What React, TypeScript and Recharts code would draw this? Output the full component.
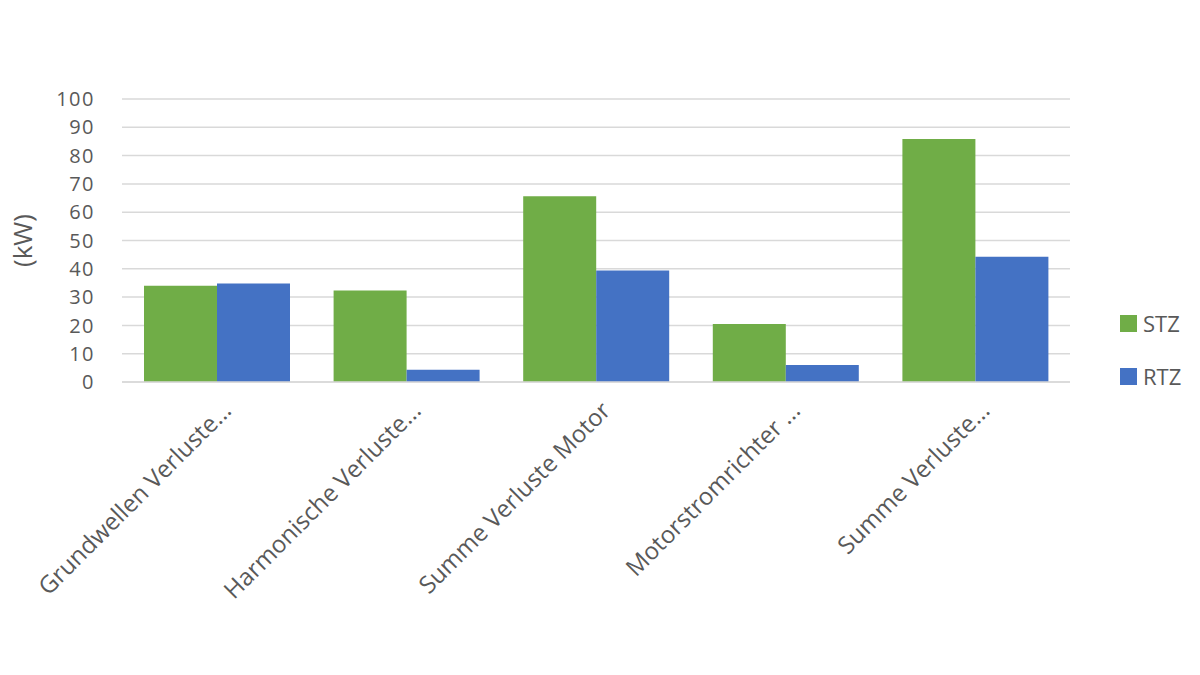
import React from "react";
import { Bar, BarChart, CartesianGrid, XAxis, YAxis } from "recharts";

const categories = [
  "Grundwellen Verluste...",
  "Harmonische Verluste...",
  "Summe Verluste Motor",
  "Motorstromrichter ...",
  "Summe Verluste...",
];
const stz = [34, 32.3, 65.6, 20.5, 85.9];
const rtz = [34.8, 4.3, 39.4, 6, 44.3];
const yTicks = [0, 10, 20, 30, 40, 50, 60, 70, 80, 90, 100];

const GREEN = "#70ad47";
const BLUE = "#4472c4";
const TEXT = "#595959";
const FONT = "'Open Sans', 'Noto Sans', sans-serif";

const data = categories.map((name, i) => ({ name, STZ: stz[i], RTZ: rtz[i] }));

function CategoryTick({ x, y, payload }: any) {
  return (
    <g transform={`translate(${x + 16},${y + 22})`}>
      <text
        transform="rotate(-45)"
        textAnchor="end"
        fill={TEXT}
        fontSize={24}
        fontFamily={FONT}
      >
        {payload.value}
      </text>
    </g>
  );
}

function LegendBox() {
  const items = [
    { label: "STZ", color: GREEN },
    { label: "RTZ", color: BLUE },
  ];
  return (
    <div
      style={{
        position: "absolute",
        left: 1120,
        top: 308,
        fontFamily: FONT,
        fontSize: 22,
        color: TEXT,
      }}
    >
      {items.map((it, i) => (
        <div
          key={it.label}
          style={{ display: "flex", alignItems: "center", height: 30, marginTop: i === 0 ? 0 : 23 }}
        >
          <span style={{ width: 17, height: 17, background: it.color, marginRight: 6 }} />
          <span>{it.label}</span>
        </div>
      ))}
    </div>
  );
}

export default function App() {
  return (
    <div style={{ position: "absolute", left: 0, top: 0, width: 1200, height: 675, background: "#fff" }}>
      <BarChart
        width={1200}
        height={675}
        data={data}
        margin={{ top: 99, right: 130, bottom: 0, left: 0 }}
        barCategoryGap={22}
        barGap={0}
      >
        <CartesianGrid horizontal vertical={false} stroke="#d9d9d9" strokeWidth={1.5} />
        <XAxis
          dataKey="name"
          interval={0}
          tick={<CategoryTick />}
          tickLine={false}
          axisLine={{ stroke: "#d9d9d9", strokeWidth: 1.5 }}
          height={293}
        />
        <YAxis
          domain={[0, 100]}
          ticks={yTicks}
          interval={0}
          width={122}
          tickLine={false}
          axisLine={false}
          tickMargin={21}
          tick={{ fill: TEXT, fontSize: 20, fontFamily: FONT, letterSpacing: 1.5 }}
          label={{
            value: "(kW)",
            angle: -90,
            position: "insideLeft",
            offset: 23,
            fill: TEXT,
            fontSize: 26,
            fontFamily: FONT,
            style: { textAnchor: "middle" },
          }}
        />
        <Bar dataKey="STZ" fill={GREEN} isAnimationActive={false} />
        <Bar dataKey="RTZ" fill={BLUE} isAnimationActive={false} />
      </BarChart>
      <LegendBox />
    </div>
  );
}
